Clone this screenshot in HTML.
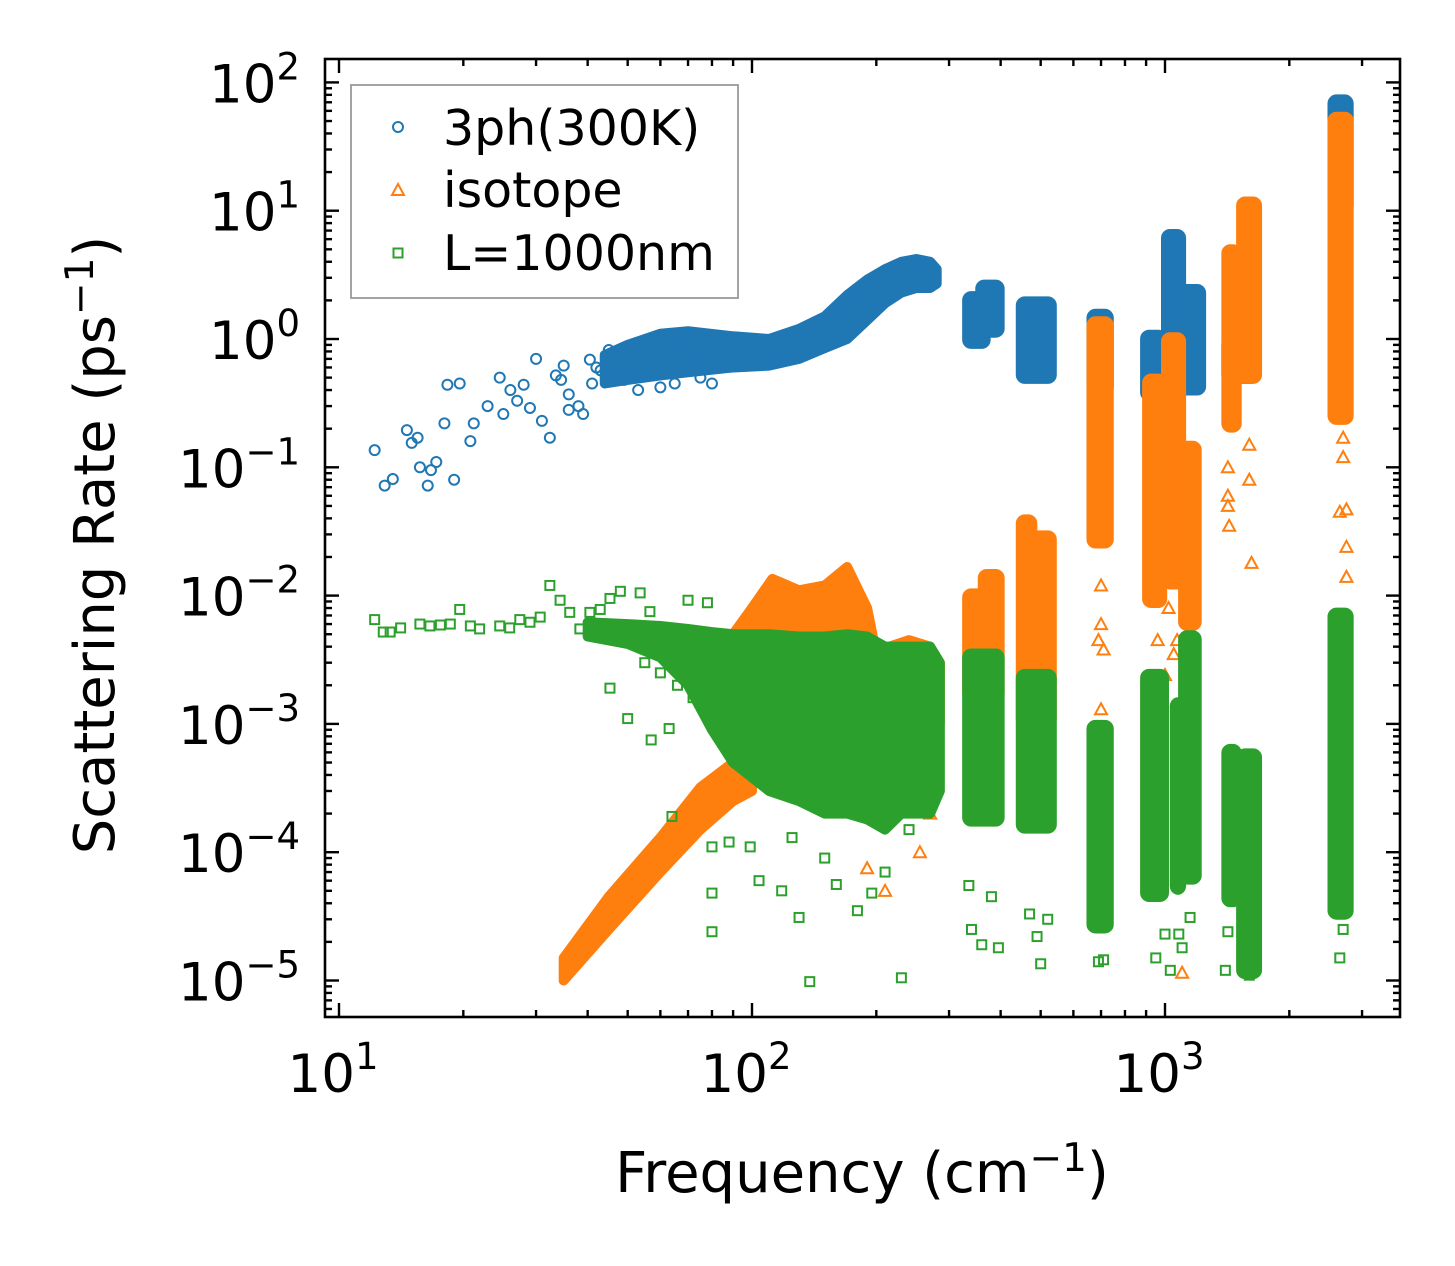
<!DOCTYPE html>
<html><head><meta charset="utf-8"><style>
html,body{margin:0;padding:0;background:#fff}
svg{display:block}
text{font-family:"DejaVu Sans","Liberation Sans",sans-serif;fill:#000}
</style></head><body>
<svg id="chart" width="1455" height="1266" viewBox="0 0 1455 1266" xmlns="http://www.w3.org/2000/svg">
<defs><clipPath id="clip"><rect x="325" y="59" width="1075" height="958"/></clipPath></defs>
<rect x="0" y="0" width="1455" height="1266" fill="#fff"/>
<g id="plot" clip-path="url(#clip)"></g>
<g id="axes"></g>
<text transform="translate(114,545) rotate(-90)" text-anchor="middle" font-size="56">Scattering Rate (ps<tspan dy="-21" font-size="39">−1</tspan><tspan dy="21">)</tspan></text>
<text x="862" y="1192" text-anchor="middle" font-size="56">Frequency (cm<tspan dy="-21" font-size="39">−1</tspan><tspan dy="21">)</tspan></text>
<g>
<rect x="351" y="85" width="387" height="213" fill="#fff" stroke="#999" stroke-width="1.8"/>
<circle cx="398" cy="127" r="5" fill="none" stroke="#1f77b4" stroke-width="2"/>
<text x="443" y="145" font-size="49">3ph(300K)</text>
<polygon points="398,184 404,195 392,195" fill="none" stroke="#ff7f0e" stroke-width="2"/>
<text x="443" y="207" font-size="49">isotope</text>
<rect x="393.5" y="248.5" width="9" height="9" fill="none" stroke="#2ca02c" stroke-width="2"/>
<text x="443" y="270" font-size="49">L=1000nm</text>
</g>
</svg>
<script>
// ---- data ----
const blueBandFreq=[44,50,60,70,90,110,130,150,170,190,210,230,250,270,280];
const blueBandLow=[0.45,0.48,0.52,0.55,0.6,0.62,0.7,0.85,1.0,1.4,1.9,2.3,2.5,2.5,2.7];
const blueBandHigh=[0.75,0.9,1.1,1.15,1.05,1.0,1.2,1.5,2.2,2.9,3.5,4.0,4.2,4.0,3.5];
const blueClusters=[[330,370,0.9,2.2],[355,400,1.1,2.7],[445,535,0.48,2.0],[660,735,0.39,1.6],[890,990,0.35,1.1],[1000,1100,0.6,6.7],[1040,1230,0.39,2.5],[1400,1660,0.48,1.0],[2530,2800,10,75]];
const bluePointsF=[12.2,12.9,13.5,14.6,15.0,15.5,15.7,16.4,16.7,17.2,18.0,18.3,19.6,19.0,20.8,21.2,22.9,24.5,25,26,27,28,29,30,31,32.4,33.5,34.5,36,39,40.5,43,45,49,53,38,41,42,36,35,60,65,75,80];
const bluePointsR=[0.136,0.072,0.081,0.195,0.155,0.17,0.1,0.072,0.095,0.11,0.22,0.44,0.45,0.08,0.16,0.22,0.3,0.5,0.26,0.4,0.33,0.44,0.29,0.7,0.23,0.17,0.52,0.48,0.37,0.26,0.69,0.57,0.82,0.48,0.4,0.3,0.45,0.6,0.28,0.62,0.42,0.45,0.5,0.45];

const orangeDiagFreq=[35,45,60,75,90,100];
const orangeDiagLow=[1e-5,2.5e-5,7e-5,1.5e-4,2.5e-4,3e-4];
const orangeDiagHigh=[1.5e-5,4.5e-5,1.3e-4,3.2e-4,5e-4,6e-4];
const orangeMidFreq=[80,90,100,112,130,150,170,190,200,215,240,270,285];
const orangeMidHigh=[0.003,0.005,0.008,0.0135,0.011,0.012,0.0167,0.008,0.0035,0.004,0.0045,0.004,0.003];
const orangeMidLow=[1e-3,1e-3,1e-3,1e-3,1e-3,1e-3,1e-3,1e-3,1e-3,1e-3,1e-3,1e-3,1e-3];
const orangeClusters=[[330,370,0.0016,0.0106],[360,400,0.0016,0.015],[445,480,0.001,0.04],[470,535,0.001,0.03],[660,735,0.025,1.4],[900,990,0.0086,0.5],[1000,1100,0.012,1.05],[1100,1200,0.0057,0.15],[1400,1500,0.2,5.1],[1520,1680,0.48,12],[2530,2800,0.23,55]];
const orangePointsF=[690,700,710,700,700,960,950,1000,980,1020,1050,1070,1100,1420,1420,1430,1600,1600,1620,1420,2650,2750,2750,2750,2700,2700,1150,255,240,190,210,270];
const orangePointsR=[0.0045,0.0013,0.0038,0.012,0.006,0.0045,0.0014,0.0024,0.0008,0.008,0.0035,0.0045,0.0000115,0.1,0.06,0.035,0.15,0.08,0.018,0.05,0.045,0.047,0.024,0.014,0.12,0.17,0.0002,0.0001,0.00028,0.000075,0.00005,0.0002];

const greenBandFreq=[40,50,60,70,80,90,110,130,150,170,190,210,230,250,270,285];
const greenBandHigh=[0.0062,0.006,0.0058,0.0055,0.0052,0.005,0.005,0.0048,0.0048,0.005,0.0048,0.004,0.004,0.004,0.004,0.003];
const greenBandLow=[0.0048,0.0042,0.0033,0.002,0.0009,0.0005,0.0003,0.00025,0.0002,0.0002,0.00018,0.00015,0.0002,0.0002,0.0002,0.0003];
const greenClusters=[[330,400,1.7e-4,0.0036],[445,535,1.5e-4,0.0025],[660,735,2.5e-5,0.001],[890,1000,4.4e-5,0.0025],[1050,1100,5e-5,0.0015],[1100,1200,6e-5,0.005],[1400,1500,4e-5,6.5e-4],[1520,1680,1.1e-5,6e-4],[2530,2800,3.2e-5,0.0075]];
const greenPointsF=[12.2,12.8,13.3,14.1,15.7,16.6,17.6,18.6,19.6,20.8,21.9,24.5,25.9,27.4,29,30.7,32.4,34.3,36.2,38.3,40.5,42.9,45.3,48,50.7,53.6,56.6,70,78,45.3,50,57,63,64,80,80,80,88,99,104,118,130,138,160,180,195,230,125,150,210,240,335,340,360,380,395,470,490,500,520,690,710,950,1000,1030,1080,1100,1150,1400,1420,1600,2650,2700,2750,55,60,66,72,68];
const greenPointsR=[0.0065,0.0052,0.0052,0.0056,0.006,0.0058,0.0059,0.006,0.0078,0.0058,0.0055,0.0058,0.0056,0.0065,0.0062,0.0068,0.012,0.0092,0.0074,0.0055,0.0074,0.0078,0.0095,0.0108,0.0052,0.0105,0.0075,0.0092,0.0088,0.0019,0.0011,0.00075,0.00092,0.00019,0.00011,0.000048,0.000024,0.00012,0.00011,0.00006,0.00005,0.000031,0.0000098,0.000056,0.000035,0.000048,0.0000105,0.00013,0.00009,0.00007,0.00015,0.000055,0.000025,0.000019,0.000045,0.000018,0.000033,0.000022,0.0000135,0.00003,0.000014,0.0000145,0.000015,0.000023,0.000012,0.000023,0.000018,0.000031,0.000012,0.000024,0.000011,0.000015,0.000025,0.000035,0.003,0.0025,0.002,0.0016,0.0028];

const xTickExps=[1,2,3];
const yTickExps=[2,1,0,-1,-2,-3,-4,-5];

// ---- scales ----
const X=f=>339+413*(Math.log10(f)-1);
const Y=r=>339-128.3*Math.log10(r);
const NS="http://www.w3.org/2000/svg";
const plot=document.getElementById('plot');
const axes=document.getElementById('axes');
function mk(tag,attrs,parent){const e=document.createElementNS(NS,tag);for(const k in attrs)e.setAttribute(k,attrs[k]);parent.appendChild(e);return e;}

const C={blue:'#1f77b4',orange:'#ff7f0e',green:'#2ca02c'};
function band(freq,low,high,color,name){
  let pts=freq.map((f,i)=>X(f)+','+Y(high[i]));
  pts=pts.concat(freq.map((f,i)=>X(f)+','+Y(low[i])).reverse());
  const p=mk('polygon',{points:pts.join(' '),fill:color,stroke:color,'stroke-width':10,'stroke-linejoin':'round'},plot);
  
  
}
function clusters(list,color,name){
  list.forEach(c=>{
    const x1=X(c[0]),x2=X(c[1]),y1=Y(c[3]),y2=Y(c[2]);
    const r=mk('rect',{x:x1,y:y1,width:Math.max(2,x2-x1),height:Math.max(2,y2-y1),rx:5,fill:color,stroke:color,'stroke-width':8,'stroke-linejoin':'round'},plot);
    
    
  });
}
function points(F,R,color,shape,name){
  F.forEach((f,i)=>{
    const x=X(f),y=Y(R[i]);let e;
    if(shape==='circle')e=mk('circle',{cx:x,cy:y,r:5,fill:'none',stroke:color,'stroke-width':2},plot);
    else if(shape==='tri')e=mk('polygon',{points:`${x},${y-6} ${x+6},${y+5} ${x-6},${y+5}`,fill:'none',stroke:color,'stroke-width':2},plot);
    else e=mk('rect',{x:x-4.5,y:y-4.5,width:9,height:9,fill:'none',stroke:color,'stroke-width':2},plot);
    
    
  });
}
band(blueBandFreq,blueBandLow,blueBandHigh,C.blue,'3ph-dense-band');
clusters(blueClusters,C.blue,'3ph-cluster');
points(bluePointsF,bluePointsR,C.blue,'circle','3ph-point');
band(orangeDiagFreq,orangeDiagLow,orangeDiagHigh,C.orange,'isotope-low-band');
band(orangeMidFreq,orangeMidLow,orangeMidHigh,C.orange,'isotope-mid-band');
clusters(orangeClusters,C.orange,'isotope-cluster');
points(orangePointsF,orangePointsR,C.orange,'tri','isotope-point');
band(greenBandFreq,greenBandLow,greenBandHigh,C.green,'boundary-dense-band');
clusters(greenClusters,C.green,'boundary-cluster');
points(greenPointsF,greenPointsR,C.green,'square','boundary-point');

// ---- axes ----
const L=325,R=1400,T=59,B=1017;
const frame=mk('rect',{x:L,y:T,width:R-L,height:B-T,fill:'none',stroke:'#000','stroke-width':2.6},axes);


function tick(x1,y1,x2,y2,name){const t=mk('line',{x1,y1,x2,y2,stroke:'#000','stroke-width':2.4},axes);}
for(let e=0;e<=3;e++)for(let m=1;m<=9;m++){
  const v=m*Math.pow(10,e);const x=X(v);if(x<L+1||x>R-1)continue;
  const len=m===1?14:7;
  tick(x,B,x,B-len,'x-tick');tick(x,T,x,T+len,'x-tick-top');
}
for(let e=-6;e<=2;e++)for(let m=1;m<=9;m++){
  const v=m*Math.pow(10,e);const y=Y(v);if(y<T+1||y>B-1)continue;
  const len=m===1?14:7;
  tick(L,y,L+len,y,'y-tick');tick(R,y,R-len,y,'y-tick-right');
}
xTickExps.forEach(e=>{
  const t=mk('text',{x:X(Math.pow(10,e))-6,y:1092,'text-anchor':'middle','font-size':53},axes);
  
  
  t.innerHTML='10<tspan dy="-23" font-size="37">'+e+'</tspan>';
});
yTickExps.forEach(e=>{
  const t=mk('text',{x:300,y:Y(Math.pow(10,e))+20,'text-anchor':'end','font-size':53},axes);
  
  
  t.innerHTML='10<tspan dy="-23" font-size="37">'+(e<0?'−'+(-e):e)+'</tspan>';
});
</script>
</body></html>
